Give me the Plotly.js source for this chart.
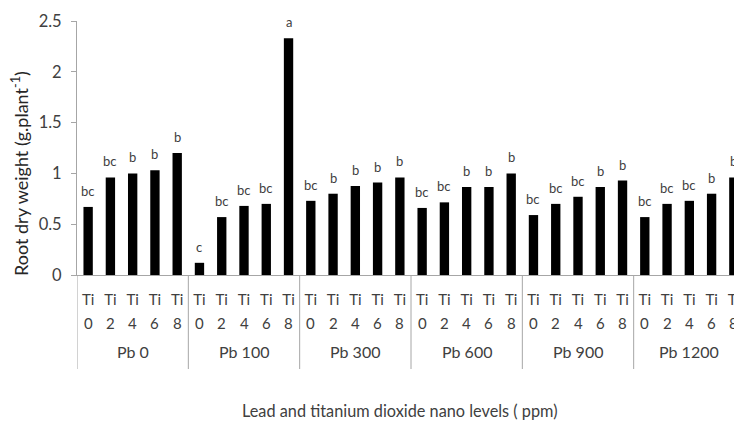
<!DOCTYPE html>
<html>
<head>
<meta charset="utf-8">
<script src="https://cdn.plot.ly/plotly-3.0.1.min.js"></script>
<style>
  html, body { margin: 0; padding: 0; overflow: hidden; background: #fff; }
  #chart { width: 760px; height: 422px; }
</style>
</head>
<body>
<div id="chart"></div>
<script>
// ---- data ----
const groups = ["Pb 0", "Pb 100", "Pb 300", "Pb 600", "Pb 900", "Pb 1200"];
const tiPrefix = "Ti";
const tiLevels = ["0", "2", "4", "6", "8"];
const pb0    = [0.67, 0.96, 1.00, 1.03, 1.20];
const pb100  = [0.12, 0.57, 0.68, 0.70, 2.33];
const pb300  = [0.73, 0.80, 0.875, 0.91, 0.96];
const pb600  = [0.66, 0.715, 0.865, 0.865, 1.00];
const pb900  = [0.59, 0.70, 0.77, 0.865, 0.93];
const pb1200 = [0.57, 0.70, 0.73, 0.80, 0.96];
const letters0    = ["bc", "bc", "b", "b", "b"];
const letters100  = ["c", "bc", "bc", "bc", "a"];
const letters300  = ["bc", "b", "b", "b", "b"];
const letters600  = ["bc", "bc", "b", "b", "b"];
const letters900  = ["bc", "bc", "bc", "b", "b"];
const letters1200 = ["bc", "bc", "bc", "b", "b"];
const yTickVals = [0, 0.5, 1, 1.5, 2, 2.5];
const yTickText = ["0", "0.5", "1", "1.5", "2", "2.5"];
const yTitle = "Root dry weight (g.plant<sup>-1</sup>)";
const xTitle = "Lead and titanium dioxide nano levels ( ppm)";

// ---- build ----
const seriesVals = [pb0, pb100, pb300, pb600, pb900, pb1200];
const seriesLetters = [letters0, letters100, letters300, letters600, letters900, letters1200];
const xs = [], ys = [], tickText = [], digits = [], labels = [];
seriesVals.forEach((vals, g) => {
  vals.forEach((v, i) => {
    xs.push(g * tiLevels.length + i);
    ys.push(v);
    tickText.push(tiPrefix);
    digits.push(tiLevels[i]);
    labels.push(seriesLetters[g][i]);
  });
});

const FONT = "Lato, 'Open Sans', sans-serif";
const TXT = "#404040";
const AX = "#a6a6a6";

const mL = 77, mT = 21, mB = 147;
const plotH = 422 - mT - mB;
const plotW = 760 - mL - 15;
const py = (pix) => (275 - pix) / plotH;   // pixel row -> paper y
const px = (pix) => (pix - mL) / plotW;    // pixel col -> paper x

const annotations = [];
xs.forEach((x, k) => {
  annotations.push({
    x: x, y: ys[k], xref: "x", yref: "y",
    text: labels[k], showarrow: false, yanchor: "bottom",
    yshift: 6, font: { family: FONT, size: 13, color: TXT }
  });
  annotations.push({
    x: x, xref: "x", y: py(323), yref: "paper",
    text: digits[k], showarrow: false, yanchor: "middle",
    font: { family: FONT, size: 15, color: TXT }
  });
});
groups.forEach((g, gi) => {
  annotations.push({
    x: gi * tiLevels.length + (tiLevels.length - 1) / 2, xref: "x",
    y: py(351), yref: "paper",
    text: g, showarrow: false, yanchor: "middle",
    font: { family: FONT, size: 16, color: TXT }
  });
});
annotations.push({
  x: px(400), xref: "paper", y: py(410), yref: "paper",
  text: xTitle, showarrow: false, yanchor: "middle",
  font: { family: FONT, size: 16.3, color: TXT }
});
annotations.push({
  x: px(20), xref: "paper", y: py(174), yref: "paper",
  text: yTitle, showarrow: false, textangle: -90,
  xanchor: "center", yanchor: "middle",
  font: { family: FONT, size: 18, color: "#262626" }
});

const shapes = [];
for (let g = 0; g <= groups.length; g++) {
  const xv = g * tiLevels.length - 0.5;
  shapes.push({
    type: "line", xref: "x", yref: "paper",
    x0: xv, x1: xv, y0: 0, y1: py(369),
    line: { color: AX, width: 1 }
  });
}

const trace = {
  type: "bar", x: xs, y: ys,
  marker: { color: "#000000", line: { width: 0 } },
  hoverinfo: "skip"
};

const layout = {
  width: 760, height: 422,
  margin: { l: mL, r: 15, t: mT, b: mB },
  paper_bgcolor: "#fff", plot_bgcolor: "#fff",
  bargap: 0.58,
  showlegend: false,
  font: { family: FONT, color: TXT },
  xaxis: {
    range: [-0.5, xs.length - 0.5],
    tickmode: "array", tickvals: xs, ticktext: tickText,
    ticks: "", showgrid: false, zeroline: false,
    showline: true, linecolor: AX, linewidth: 1,
    tickfont: { family: FONT, size: 15, color: TXT },
    ticklabelstandoff: 11,
    fixedrange: true
  },
  yaxis: {
    range: [0, 2.5], tickmode: "array",
    tickvals: yTickVals, ticktext: yTickText,
    ticks: "outside", ticklen: 5, tickcolor: AX, tickwidth: 1,
    showgrid: false, zeroline: false,
    showline: true, linecolor: AX, linewidth: 1,
    tickfont: { family: FONT, size: 16.5, color: TXT },
    ticklabelstandoff: 6,
    fixedrange: true
  },
  annotations: annotations,
  shapes: shapes
};

Plotly.newPlot("chart", [trace], layout, { staticPlot: true, responsive: false, displayModeBar: false });
</script>
</body>
</html>
